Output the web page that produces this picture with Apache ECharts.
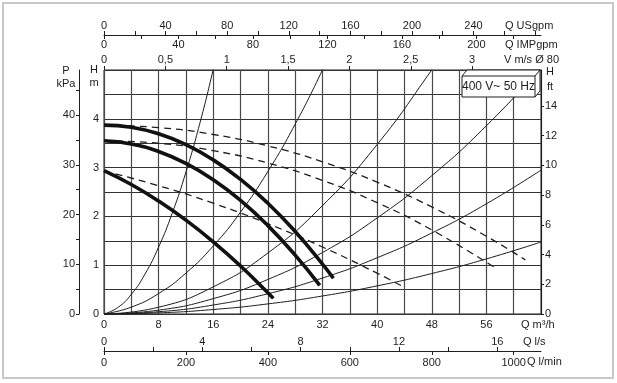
<!DOCTYPE html>
<html>
<head>
<meta charset="utf-8">
<script src="https://cdn.jsdelivr.net/npm/echarts@6/dist/echarts.min.js"></script>
<style>
html,body{margin:0;padding:0;background:#fff;}
#c{width:617px;height:383px;}
</style>
</head>
<body>
<div id="c"></div>
<script>
// ---- data (Q in m3/h, H in m) ----
const heavy1Q = [0, 4, 8, 12, 16, 20, 24, 28, 32, 33.6];
const heavy1H = [3.87, 3.826, 3.692, 3.47, 3.158, 2.758, 2.269, 1.69, 1.023, 0.732];
const heavy2Q = [0, 4, 8, 12, 16, 20, 24, 28, 31.6];
const heavy2H = [3.55, 3.485, 3.33, 3.085, 2.751, 2.326, 1.811, 1.207, 0.586];
const heavy3Q = [0, 4, 8, 12, 16, 20, 24, 24.8];
const heavy3H = [2.94, 2.654, 2.314, 1.923, 1.479, 0.984, 0.436, 0.32];

const dash1Q = [0, 8, 16, 24, 32, 40, 48, 56, 61.7];
const dash1H = [3.87, 3.82, 3.678, 3.445, 3.119, 2.702, 2.194, 1.594, 1.11];
const dash2Q = [0, 8, 16, 24, 32, 40, 48, 57.5];
const dash2H = [3.55, 3.499, 3.347, 3.093, 2.738, 2.281, 1.723, 0.928];
const dash3Q = [0, 8, 16, 24, 32, 40, 43.6];
const dash3H = [2.93, 2.629, 2.27, 1.851, 1.373, 0.836, 0.575];

const sys1Q = [0, 2, 4, 6, 8, 10, 12, 14, 16, 17];
const sys1H = [0, 0.131, 0.403, 0.817, 1.373, 2.07, 2.909, 3.889, 5.011, 5.625];
const sys2Q = [0, 4, 8, 12, 16, 20, 24, 28, 32, 34];
const sys2H = [0, 0.141, 0.42, 0.838, 1.394, 2.088, 2.92, 3.891, 5.0, 5.606];
const sys3Q = [0, 8, 16, 24, 32, 40, 48, 50];
const sys3H = [0, 0.139, 0.556, 1.25, 2.222, 3.472, 5.0, 5.425];
const sys4Q = [0, 8, 16, 24, 32, 40, 48, 56, 64];
const sys4H = [0, 0.079, 0.315, 0.708, 1.26, 1.968, 2.834, 3.857, 5.038];
const sys5Q = [0, 8, 16, 24, 32, 40, 48, 56, 64];
const sys5H = [0, 0.046, 0.184, 0.415, 0.737, 1.152, 1.659, 2.258, 2.949];
const sys6Q = [0, 8, 16, 24, 32, 40, 48, 56, 64];
const sys6H = [0, 0.023, 0.092, 0.207, 0.369, 0.576, 0.829, 1.129, 1.475];

// ---- tick labels ----
const qLabels = [0, 8, 16, 24, 32, 40, 48, 56];          // m3/h
const hLabels = [0, 1, 2, 3, 4];                          // m
const pLabels = [0, 10, 20, 30, 40];                      // kPa
const pTicks = [0, 5, 10, 15, 20, 25, 30, 35, 40, 45];
const ftLabels = [0, 2, 4, 6, 8, 10, 12, 14];             // ft
const usLabels = [0, 40, 80, 120, 160, 200, 240];         // USgpm
const usTicks = [0, 20, 40, 60, 80, 100, 120, 140, 160, 180, 200, 220, 240, 260, 280];
const impLabels = [0, 40, 80, 120, 160, 200];             // IMPgpm
const impTicks = [0, 20, 40, 60, 80, 100, 120, 140, 160, 180, 200, 220];
const vLabels = [0, 0.5, 1, 1.5, 2, 2.5, 3];              // m/s
const lsLabels = [0, 4, 8, 12, 16];                       // l/s
const lsTicks = [0, 2, 4, 6, 8, 10, 12, 14, 16];
const lminLabels = [0, 200, 400, 600, 800, 1000];         // l/min

// unit conversions (m3/h per unit)
const Q_MAX = 64;
const US = 0.2255, IMP = 0.2727, VEL = 17.97, LS = 3.6, LMIN = 0.06;
const H_MAX = 5;

const FONT = 'Liberation Sans, Arial, Helvetica, sans-serif';
const INK = '#1e1e1e';
const lab = {fontFamily: FONT, fontSize: 11, color: INK};

function pairs(q, h) { return q.map((v, i) => [v, h[i]]); }
function fmtComma(v) { return String(v).replace('.', ','); }
function near(a, v) { return a.some(x => Math.abs(x - v) < 1e-6); }

const chart = echarts.init(document.getElementById('c'), null, {renderer: 'canvas'});

const gridRect = {left: 104, top: 70, width: 437, height: 244};

const xAxes = [
  { // m3/h
    type: 'value', gridIndex: 0, position: 'bottom', min: 0, max: Q_MAX, interval: 4,
    axisLine: {show: false, onZero: false}, axisTick: {show: false},
    axisLabel: Object.assign({margin: 5, customValues: qLabels,
      formatter: v => near(qLabels, v) ? String(v) : ''}, lab),
    splitLine: {show: true, lineStyle: {color: '#4a4a4a', width: 1.2}}
  },
  { // USgpm
    type: 'value', gridIndex: 0, position: 'top', offset: 35, min: 0, max: Q_MAX / US, interval: 20,
    axisLine: {show: true, onZero: false, lineStyle: {color: INK, width: 1}},
    axisTick: {show: true, inside: false, length: 4, customValues: usTicks, lineStyle: {color: INK}},
    axisLabel: Object.assign({margin: 4, customValues: usLabels,
      formatter: v => near(usLabels, v) ? String(v) : ''}, lab),
    splitLine: {show: false}
  },
  { // IMPgpm
    type: 'value', gridIndex: 0, position: 'top', offset: 35, min: 0, max: Q_MAX / IMP, interval: 20,
    axisLine: {show: false, onZero: false},
    axisTick: {show: true, inside: true, length: 4, customValues: impTicks, lineStyle: {color: INK}},
    axisLabel: Object.assign({inside: true, margin: 4, customValues: impLabels,
      formatter: v => near(impLabels, v) ? String(v) : ''}, lab),
    splitLine: {show: false}
  },
  { // velocity
    type: 'value', gridIndex: 0, position: 'top', offset: 0, min: 0, max: Q_MAX / VEL, interval: 0.5,
    axisLine: {show: false, onZero: false},
    axisTick: {show: true, inside: false, length: 4, customValues: vLabels, lineStyle: {color: INK}},
    axisLabel: Object.assign({margin: 5, customValues: vLabels,
      formatter: v => near(vLabels, v) ? fmtComma(v) : ''}, lab),
    splitLine: {show: false}
  },
  { // l/s
    type: 'value', gridIndex: 0, position: 'bottom', offset: 37, min: 0, max: Q_MAX / LS, interval: 2,
    axisLine: {show: true, onZero: false, lineStyle: {color: INK, width: 1}},
    axisTick: {show: true, inside: true, length: 4, customValues: lsTicks, lineStyle: {color: INK}},
    axisLabel: Object.assign({inside: true, margin: 4, customValues: lsLabels,
      formatter: v => near(lsLabels, v) ? String(v) : ''}, lab),
    splitLine: {show: false}
  },
  { // l/min
    type: 'value', gridIndex: 0, position: 'bottom', offset: 37, min: 0, max: Q_MAX / LMIN, interval: 200,
    axisLine: {show: false, onZero: false},
    axisTick: {show: true, inside: false, length: 4, customValues: lminLabels, lineStyle: {color: INK}},
    axisLabel: Object.assign({margin: 6, customValues: lminLabels,
      formatter: v => near(lminLabels, v) ? String(v) : ''}, lab),
    splitLine: {show: false}
  }
];

const yAxes = [
  { // H m
    type: 'value', gridIndex: 0, position: 'left', min: 0, max: H_MAX, interval: 0.5,
    axisLine: {show: false, onZero: false}, axisTick: {show: false},
    axisLabel: Object.assign({margin: 5, customValues: hLabels,
      formatter: v => near(hLabels, v) ? String(v) : ''}, lab),
    splitLine: {show: true, lineStyle: {color: '#333', width: 1}}
  },
  { // P kPa
    type: 'value', gridIndex: 0, position: 'left', offset: 25, min: 0, max: H_MAX * 9.81, interval: 5,
    axisLine: {show: true, onZero: false, lineStyle: {color: INK, width: 1}},
    axisTick: {show: true, inside: false, length: 3, customValues: pTicks, lineStyle: {color: INK}},
    axisLabel: Object.assign({margin: 4, customValues: pLabels,
      formatter: v => near(pLabels, v) ? String(v) : ''}, lab),
    splitLine: {show: false}
  },
  { // ft
    type: 'value', gridIndex: 0, position: 'right', min: 0, max: H_MAX / 0.3048, interval: 2,
    axisLine: {show: true, onZero: false, lineStyle: {color: INK, width: 1}},
    axisTick: {show: true, inside: false, length: 3, customValues: ftLabels, lineStyle: {color: INK}},
    axisLabel: Object.assign({margin: 4, customValues: ftLabels,
      formatter: v => near(ftLabels, v) ? String(v) : ''}, lab),
    splitLine: {show: false}
  }
];

function line(q, h, style) {
  return {
    type: 'line', xAxisIndex: 0, yAxisIndex: 0, data: pairs(q, h),
    showSymbol: false, symbol: 'none', smooth: true, silent: true, clip: true,
    lineStyle: style, z: 3
  };
}
const thin = {color: INK, width: 1};
const heavy = {color: '#111', width: 3.6};
const dashed = {color: INK, width: 1.3, type: [7, 5]};

const series = [
  line(sys1Q, sys1H, thin), line(sys2Q, sys2H, thin), line(sys3Q, sys3H, thin),
  line(sys4Q, sys4H, thin), line(sys5Q, sys5H, thin), line(sys6Q, sys6H, thin),
  line(dash1Q, dash1H, dashed), line(dash2Q, dash2H, dashed), line(dash3Q, dash3H, dashed),
  line(heavy1Q, heavy1H, heavy), line(heavy2Q, heavy2H, heavy), line(heavy3Q, heavy3H, heavy)
];

function txt(x, y, s, align) {
  return {type: 'text', x: x, y: y, z: 20,
    style: {text: s, fill: INK, font: '11px ' + FONT, textAlign: align || 'left', textVerticalAlign: 'middle'}};
}

const graphics = [
  {type: 'rect', shape: {x: 3, y: 3, width: 610, height: 375}, style: {fill: 'none', stroke: '#c8c8c8', lineWidth: 2}, z: 0},
  txt(505, 26, 'Q USgpm'),
  txt(505, 44.5, 'Q IMPgpm'),
  txt(504, 60, 'V m/s Ø 80'),
  txt(546, 72, 'H'),
  txt(547, 87, 'ft'),
  txt(66, 71, 'P', 'center'),
  txt(66, 84, 'kPa', 'center'),
  txt(94, 70, 'H', 'center'),
  txt(94, 83, 'm', 'center'),
  txt(521, 325, 'Q m³/h'),
  txt(523, 342, 'Q l/s'),
  txt(527, 362, 'Q l/min'),
  // 3D label box
  {type: 'polygon', z: 30, shape: {points: [[462, 76], [467, 70], [540, 70], [540, 91], [535, 97], [462, 97]]},
    style: {fill: '#fff', stroke: INK, lineWidth: 1}},
  {type: 'polyline', z: 31, shape: {points: [[462, 76], [535, 76], [535, 97]]}, style: {fill: 'none', stroke: INK, lineWidth: 1}},
  {type: 'polyline', z: 31, shape: {points: [[535, 76], [540, 70]]}, style: {fill: 'none', stroke: INK, lineWidth: 1}},
  {type: 'text', z: 32, x: 498.5, y: 87, style: {text: '400 V~ 50 Hz', fill: INK, font: '12px ' + FONT, textAlign: 'center', textVerticalAlign: 'middle'}}
];

chart.setOption({
  animation: false,
  backgroundColor: '#fff',
  grid: [Object.assign({show: true, borderColor: INK, borderWidth: 1, backgroundColor: 'transparent'}, gridRect)],
  xAxis: xAxes,
  yAxis: yAxes,
  series: series,
  graphic: graphics
});
</script>
</body>
</html>
